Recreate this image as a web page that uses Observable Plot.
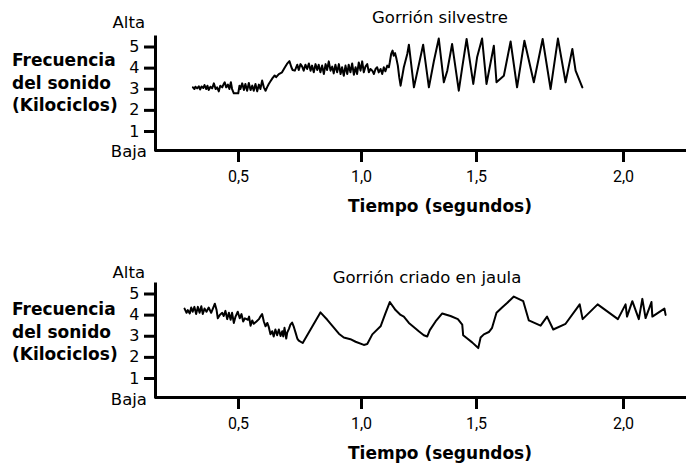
<!DOCTYPE html>
<html><head><meta charset="utf-8">
<script src="https://cdn.jsdelivr.net/npm/d3@7"></script>
<script src="https://cdn.jsdelivr.net/npm/@observablehq/plot@0.6"></script>
<style>
html,body{margin:0;padding:0;background:#fff;}
#wrap{position:relative;width:686px;height:466px;overflow:hidden;background:#fff;}
.chart{position:absolute;left:0;}
svg g[aria-label^="x-axis"] path, svg g[aria-label^="x-axis"] line,
svg g[aria-label^="y-axis"] path, svg g[aria-label^="y-axis"] line{stroke-width:3px;stroke:#000;}
svg g[aria-label^="x-axis"] text{font-family:Roboto,sans-serif;font-size:16px;fill:#000;}
svg g[aria-label^="y-axis"] text{font-family:"DejaVu Sans",sans-serif;font-size:16px;fill:#000;}
</style></head><body>
<div id="wrap"><div id="c1" class="chart" style="top:0"></div><div id="c2" class="chart" style="top:247px"></div></div>
<script>
// ---- data ----
const xTicks = [0.5, 1.0, 1.5, 2.0];
const xTickLabels = ["0,5", "1,0", "1,5", "2,0"];
const yTicks = [1, 2, 3, 4, 5];
const yTickLabels = ["1", "2", "3", "4", "5"];
const yLabelHigh = "Alta";
const yLabelLow = "Baja";
const yTitle = ["Frecuencia", "del sonido", "(Kilociclos)"];
const xTitle = "Tiempo (segundos)";
const titles = ["Gorrión silvestre", "Gorrión criado en jaula"];

// Gorrión silvestre: time (s), frequency (kHz)
const tWild = [0.315,0.321,0.325,0.332,0.339,0.344,0.350,0.357,0.362,0.369,0.374,0.379,0.386,0.393,0.400,0.407,0.413,0.420,0.426,0.434,0.440,0.444,0.450,0.457,0.463,0.469,0.474,0.481,0.490,0.499,0.504,0.508,0.515,0.522,0.528,0.535,0.542,0.549,0.556,0.562,0.569,0.576,0.583,0.589,0.596,0.603,0.610,0.616,0.623,0.630,0.639,0.647,0.653,0.664,0.677,0.687,0.697,0.707,0.715,0.720,0.729,
0.732,0.739,0.745,0.752,0.759,0.765,0.772,0.779,0.786,0.793,0.799,0.806,0.813,0.820,0.826,0.833,0.840,0.847,0.854,0.860,0.867,0.874,0.881,0.887,0.894,0.901,0.908,0.915,0.921,0.928,0.935,0.942,0.948,0.955,0.962,0.969,0.976,0.982,0.989,0.996,1.003,1.010,1.017,1.025,1.032,1.039,1.047,1.054,1.061,1.068,1.075,1.083,1.090,1.097,1.104,1.112,1.119,1.123,1.129,1.135,1.140,1.146,1.152,1.158,1.164,1.170,
1.184,1.199,1.206,1.228,1.268,1.293,1.315,1.336,1.358,1.373,1.394,1.423,1.438,1.457,1.486,1.502,1.519,1.534,1.559,1.568,1.593,1.616,1.638,1.663,1.695,1.725,1.752,1.777,1.803,1.826,1.837,1.860];
const fWild = [3.09,3.01,3.12,3.04,3.14,2.99,3.13,3.06,3.20,3.01,3.17,2.96,3.12,3.04,3.28,3.01,3.09,2.90,3.17,3.09,3.25,3.33,3.09,3.22,3.01,3.33,3.01,2.81,2.81,2.81,3.17,3.01,3.28,2.96,3.25,2.93,3.30,2.96,3.17,2.93,3.25,2.90,3.22,3.01,3.41,3.09,2.93,3.09,3.25,3.38,3.54,3.65,3.57,3.72,3.80,4.01,4.20,4.33,4.04,3.91,3.88,
3.96,4.16,3.91,4.19,4.07,3.88,4.16,3.96,4.22,3.88,4.12,3.80,4.19,3.91,4.16,3.80,4.12,3.72,4.19,3.91,4.32,3.88,4.07,3.75,4.16,3.80,4.19,3.72,4.04,3.64,4.12,3.72,4.16,3.80,4.22,3.69,4.04,3.72,4.27,3.88,4.32,3.80,4.07,4.19,3.80,3.96,3.88,3.72,3.96,4.04,3.80,3.96,3.72,4.04,3.85,4.12,4.04,4.27,4.67,4.83,4.59,4.71,4.44,4.12,3.57,3.17,
4.04,4.67,5.11,3.09,5.11,3.09,4.35,5.40,3.33,3.88,5.14,2.93,4.04,5.38,3.25,4.51,5.40,3.25,5.06,3.33,3.64,5.26,3.09,5.30,3.33,5.38,3.01,5.40,3.33,4.91,3.88,3.09];

// Gorrión criado en jaula: time (s), frequency (kHz)
const tCaged = [0.281,0.289,0.294,0.302,0.308,0.314,0.321,0.328,0.335,0.342,0.349,0.355,0.362,0.370,0.379,0.389,0.396,0.404,0.411,0.416,0.424,0.434,0.440,0.447,0.454,0.461,0.468,0.474,0.481,0.488,0.497,0.505,0.512,0.519,0.526,0.533,0.538,0.543,0.549,0.556,0.562,0.573,0.583,0.589,0.596,0.603,0.610,0.617,0.623,0.630,0.637,0.643,0.650,0.657,0.664,0.671,0.678,0.682,0.687,0.694,0.698,0.705,0.711,0.718,0.725,0.732,0.739,0.745,
0.761,0.833,0.861,0.908,0.928,0.955,0.976,1.010,1.025,1.047,1.083,1.104,1.123,1.148,1.170,1.184,1.206,1.227,1.249,1.271,1.286,1.297,1.322,1.351,1.387,1.419,1.438,1.442,1.460,1.481,1.506,1.514,1.525,1.542,1.553,1.568,1.587,1.604,1.627,1.659,1.678,1.718,1.740,1.761,1.803,1.851,1.861,1.912,1.981,2.007,2.012,2.030,2.052,2.064,2.075,2.095,2.098,2.139,2.143];
const fCaged = [4.31,4.11,4.24,4.08,4.36,4.16,4.39,4.05,4.39,4.11,4.42,4.05,4.31,4.16,4.36,4.11,4.31,4.54,4.24,3.85,4.01,4.11,3.96,4.20,3.81,4.11,3.78,4.11,3.63,3.93,4.16,3.85,4.05,3.70,3.85,3.81,3.78,3.93,3.50,3.75,3.59,3.70,3.81,3.93,4.05,3.70,3.47,3.63,3.44,3.09,3.24,2.99,3.32,3.05,3.32,3.01,3.24,2.99,3.40,2.89,3.17,3.35,3.55,3.65,3.44,3.17,2.89,2.79,
2.68,4.13,3.78,3.12,2.94,2.86,2.74,2.59,2.63,3.09,3.47,4.08,4.62,4.24,4.01,3.93,3.63,3.44,3.24,3.05,2.99,3.29,3.70,4.08,3.96,3.81,3.55,3.05,2.89,2.71,2.44,2.94,3.09,3.20,3.40,4.11,4.36,4.57,4.88,4.66,3.75,3.50,3.93,3.32,3.59,4.51,3.81,4.51,3.81,4.51,3.93,4.66,3.81,4.77,3.86,4.62,3.93,4.31,4.01];

// ---- layout ----
const W = 686;
const xDomain = [0.163, 0.5, 1.0, 1.5, 2.0, 2.214];   // hand-drawn, unevenly spaced time axis
const xRange  = [155, 238, 361, 476, 623, 686];
const yDomain = [0.1, 5.45];
const yRange = [150, 37];
const FONT = "DejaVu Sans, sans-serif";

function chart(t, f, title, H, L) {
  const rows = t.map((d, i) => ({t: d, f: f[i]}));
  const svg = Plot.plot({
    width: W, height: H,
    marginLeft: 155, marginRight: 0, marginTop: 37, marginBottom: H - 150,
    style: {fontFamily: FONT, fontSize: "16px", color: "black", background: "white", overflow: "visible"},
    x: {type: "linear", domain: xDomain, range: xRange, ticks: xTicks,
        tickFormat: d => xTickLabels[xTicks.indexOf(d)], tickSize: 12, tickPadding: 8, label: null},
    y: {type: "linear", domain: yDomain, range: yRange, ticks: yTicks,
        tickFormat: d => yTickLabels[yTicks.indexOf(d)], tickSize: 11, tickPadding: 5, label: null},
    marks: [
      Plot.ruleX([xDomain[0]], {strokeWidth: 3, strokeLinecap: "square"}),
      Plot.ruleY([yDomain[0]], {strokeWidth: 3}),
      Plot.line(rows, {x: "t", y: "f", stroke: "black", strokeWidth: 2, strokeLinejoin: "round"})
    ]
  });
  const s = d3.select(svg);
  const add = (txt, x, y, anchor, size, weight) => s.append("text")
    .attr("x", x).attr("y", y).attr("text-anchor", anchor)
    .attr("font-family", FONT).attr("font-size", size).attr("font-weight", weight || "normal")
    .attr("fill", "black").text(txt);
  add(title, L.titleX, L.titleY, "middle", 16.5);
  add(yLabelHigh, 145, L.altaY, "end", 16.5);
  add(yLabelLow, 147, L.bajaY, "end", 16.5);
  yTitle.forEach((line, i) => add(line, 12, L.labY + i * 22.7, "start", 17, "bold"));
  add(xTitle, 440, 212, "middle", 17, "bold");
  return svg;
}

document.getElementById("c1").appendChild(
  chart(tWild, fWild, titles[0], 247, {titleX: 440, titleY: 23, altaY: 28, bajaY: 157, labY: 66}));
document.getElementById("c2").appendChild(
  chart(tCaged, fCaged, titles[1], 219, {titleX: 427, titleY: 36, altaY: 31, bajaY: 158, labY: 68}));
</script>
</body></html>
